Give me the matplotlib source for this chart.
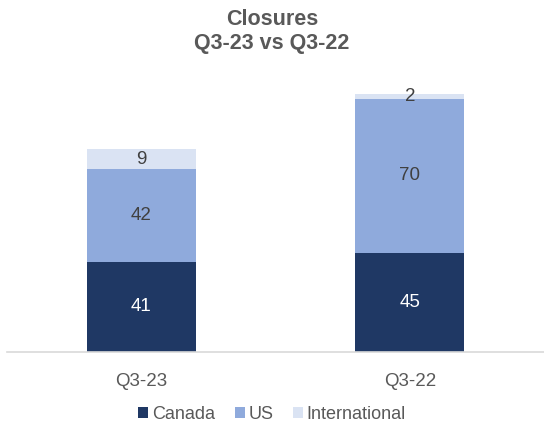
import matplotlib.pyplot as plt
import numpy as np

plt.rcParams['font.family'] = ['Liberation Sans', 'DejaVu Sans']

quarters = ['Q3-23', 'Q3-22']
canada = [41, 45]
us = [42, 70]
intl = [9, 2]

series = [('Canada', canada, '#1F3864', 'white'),
          ('US', us, '#8FAADC', '#404040'),
          ('International', intl, '#DAE3F3', '#404040')]

fig = plt.figure(figsize=(5.44, 4.28), dpi=100)
ax = fig.add_axes([0.013, 0.178, 0.987, 0.72])

x = np.arange(len(quarters))
bottom = np.zeros(len(quarters))
for name, vals, col, tcol in series:
    bars = ax.bar(x, vals, 0.405, bottom=bottom, color=col, label=name)
    ax.bar_label(bars, labels=[str(v) for v in vals], label_type='center',
                 color=tcol, fontsize=13.5)
    bottom += np.array(vals)

ax.set_xlim(-0.5, 1.5)
ax.set_ylim(0, 140)
ax.set_yticks([])
for s in ['top', 'right', 'left']:
    ax.spines[s].set_visible(False)
ax.spines['bottom'].set_color('#D9D9D9')
ax.spines['bottom'].set_linewidth(1.2)
ax.set_xticks(x)
ax.set_xticklabels(quarters, fontsize=13.5, color='#595959')
ax.tick_params(axis='x', length=0, pad=15)

fig.text(0.5, 0.926, 'Closures\nQ3-23 vs Q3-22', ha='center', va='center',
         fontsize=15.5, fontweight='bold', color='#595959', linespacing=1.2)

fig.legend(loc='center', bbox_to_anchor=(0.5, 0.031), ncol=3, frameon=False,
           fontsize=13, handlelength=0.55, handleheight=0.55, handletextpad=0.2,
           columnspacing=1.1, labelcolor='#595959')

fig.savefig('out.png', dpi=100)
